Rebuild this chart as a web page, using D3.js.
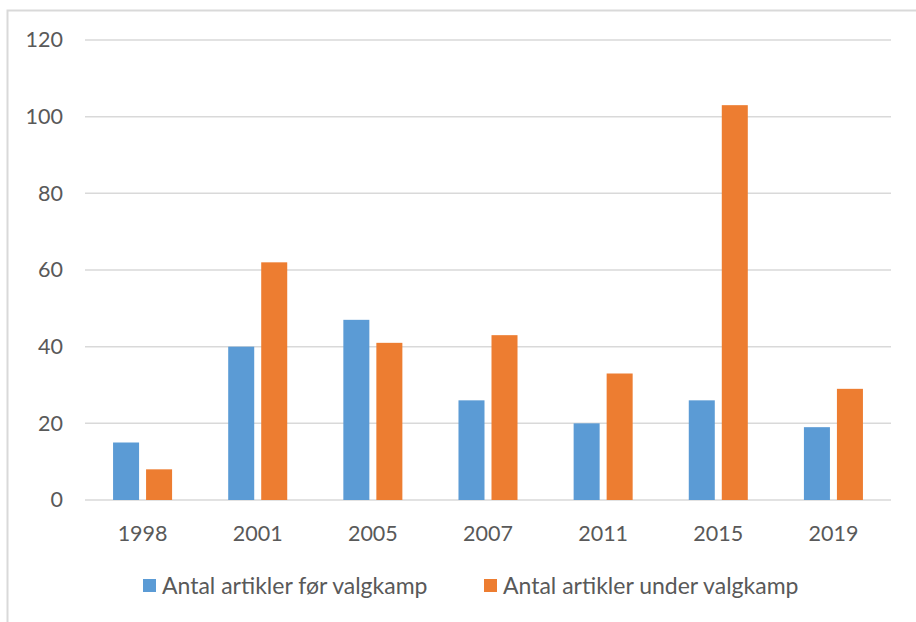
<!DOCTYPE html>
<html><head><meta charset="utf-8">
<script src="https://cdn.jsdelivr.net/npm/d3@7"></script>
<style>body{margin:0;background:#fff}svg{display:block}</style>
</head><body><svg id="c" width="916" height="622"></svg>
<script>
const categories = ["1998","2001","2005","2007","2011","2015","2019"];
const seriesNames = ["Antal artikler før valgkamp","Antal artikler under valgkamp"];
const before = [15,40,47,26,20,26,19];
const during = [8,62,41,43,33,103,29];
const yTicks = [0,20,40,60,80,100,120];
const colors = ["#5B9BD5","#ED7D31"];

const svg = d3.select("#c");
const font = "Lato, 'Open Sans', sans-serif";
svg.append("rect").attr("x",7.5).attr("y",10.5).attr("width",930).attr("height",640)
  .attr("fill","#fff").attr("stroke","#d9d9d9").attr("stroke-width",2);

const x0 = d3.scaleBand().domain(categories).range([85,891]).paddingInner(0).paddingOuter(0);
const x1 = d3.scaleBand().domain([0,1]).range([0,x0.bandwidth()]).paddingInner(0.212).paddingOuter(0.85);
const y = d3.scaleLinear().domain([0,120]).range([500,40]);

const grid = svg.append("g");
grid.selectAll("line").data(yTicks).join("line")
  .attr("x1",85).attr("x2",891).attr("y1",d=>y(d)).attr("y2",d=>y(d))
  .attr("stroke","#d9d9d9").attr("stroke-width",1.5);

const yAxis = d3.axisLeft(y).tickValues(yTicks).tickSize(0).tickPadding(0);
const ya = svg.append("g").attr("transform","translate(63,0)").call(yAxis);
ya.select(".domain").remove();
ya.selectAll("text").attr("font-family",font).attr("font-size",21.5).attr("fill","#595959");

const data = categories.map((c,i)=>({c, v:[before[i], during[i]]}));
const groups = svg.append("g").selectAll("g").data(data).join("g")
  .attr("transform",d=>`translate(${x0(d.c)},0)`);
groups.selectAll("rect").data(d=>d.v.map((v,k)=>({v,k}))).join("rect")
  .attr("x",d=>x1(d.k)).attr("width",x1.bandwidth())
  .attr("y",d=>y(d.v)).attr("height",d=>y(0)-y(d.v))
  .attr("fill",d=>colors[d.k]);

const xAxis = d3.axisBottom(x0).tickSize(0).tickPadding(0);
const xa = svg.append("g").attr("transform","translate(0,526)").call(xAxis);
xa.select(".domain").remove();
xa.selectAll("text").attr("font-family",font).attr("font-size",21.5).attr("fill","#595959");

const legX = [143, 484];
const leg = svg.append("g").selectAll("g").data(seriesNames).join("g")
  .attr("transform",(d,i)=>`translate(${legX[i]},579)`);
leg.append("rect").attr("width",13).attr("height",13).attr("fill",(d,i)=>colors[i]);
leg.append("text").attr("x",19).attr("y",15).text(d=>d)
  .attr("font-family",font).attr("font-size",23).attr("fill","#595959");
</script></body></html>
